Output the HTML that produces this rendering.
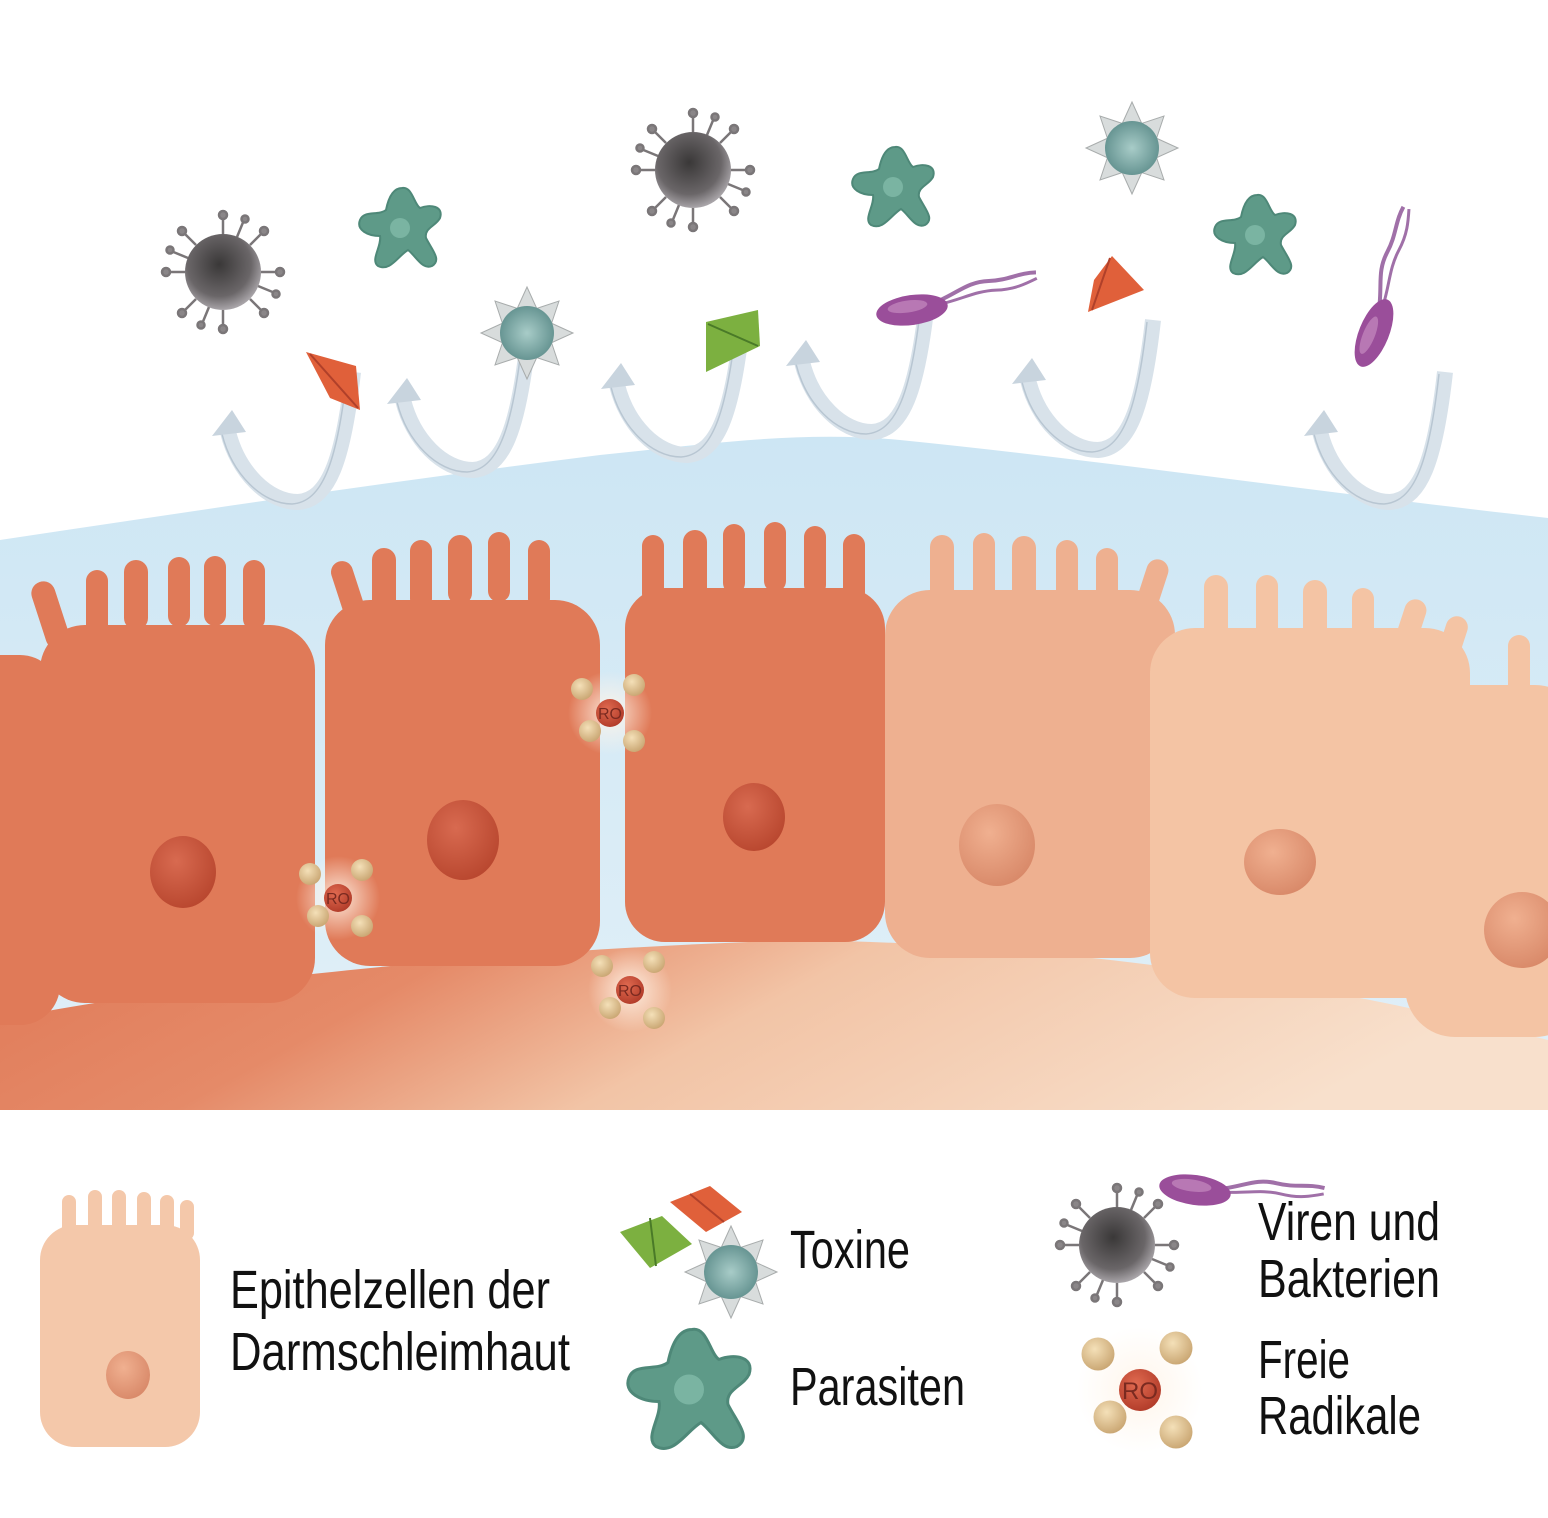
<!DOCTYPE html>
<html><head><meta charset="utf-8"><style>html,body{margin:0;padding:0;background:#fff}svg{display:block}</style></head><body>
<svg width="1548" height="1518" viewBox="0 0 1548 1518" xmlns="http://www.w3.org/2000/svg">
<defs>
<linearGradient id="blue" x1="0" y1="0" x2="0" y2="1"><stop offset="0" stop-color="#cde6f4"/><stop offset="1" stop-color="#e2f0f8"/></linearGradient>
<linearGradient id="tissue" x1="0" y1="0" x2="1" y2="0.2"><stop offset="0" stop-color="#e07a58"/><stop offset="0.3" stop-color="#e58a68"/><stop offset="0.55" stop-color="#f2c4a6"/><stop offset="1" stop-color="#f8e0cc"/></linearGradient>
<radialGradient id="vir" cx="0.45" cy="0.4" r="0.6"><stop offset="0" stop-color="#3a3838"/><stop offset="0.7" stop-color="#6a6668"/><stop offset="1" stop-color="#a8a4a8"/></radialGradient>
<radialGradient id="spk" cx="0.5" cy="0.5" r="0.6"><stop offset="0" stop-color="#a8ccc8"/><stop offset="1" stop-color="#5a8a88"/></radialGradient>
<radialGradient id="nuc" cx="0.4" cy="0.35" r="0.7"><stop offset="0" stop-color="#d86a50"/><stop offset="1" stop-color="#b8462e"/></radialGradient>
<radialGradient id="nuc2" cx="0.4" cy="0.35" r="0.7"><stop offset="0" stop-color="#f0b090"/><stop offset="1" stop-color="#d88868"/></radialGradient>
<radialGradient id="ball" cx="0.4" cy="0.35" r="0.7"><stop offset="0" stop-color="#f4e0b8"/><stop offset="1" stop-color="#c8a470"/></radialGradient>
<radialGradient id="ro" cx="0.4" cy="0.35" r="0.7"><stop offset="0" stop-color="#e06a50"/><stop offset="1" stop-color="#b03a28"/></radialGradient>
<radialGradient id="glow" cx="0.5" cy="0.5" r="0.5"><stop offset="0" stop-color="#fff4e8" stop-opacity="0.9"/><stop offset="1" stop-color="#fff4e8" stop-opacity="0"/></radialGradient>
<g id="virus">
 <g stroke="#7a7678" stroke-width="2.5" fill="#8a8688">
  <line x1="0" y1="-38" x2="0" y2="-56"/><circle cx="0" cy="-57" r="4"/>
  <line x1="0" y1="38" x2="0" y2="56"/><circle cx="0" cy="57" r="4"/>
  <line x1="-38" y1="0" x2="-56" y2="0"/><circle cx="-57" cy="0" r="4"/>
  <line x1="38" y1="0" x2="56" y2="0"/><circle cx="57" cy="0" r="4"/>
  <line x1="27" y1="27" x2="40" y2="40"/><circle cx="41" cy="41" r="4"/>
  <line x1="-27" y1="27" x2="-40" y2="40"/><circle cx="-41" cy="41" r="4"/>
  <line x1="27" y1="-27" x2="40" y2="-40"/><circle cx="41" cy="-41" r="4"/>
  <line x1="-27" y1="-27" x2="-40" y2="-40"/><circle cx="-41" cy="-41" r="4"/>
  <line x1="14" y1="-35" x2="21" y2="-52"/><circle cx="22" cy="-53" r="3.5"/>
  <line x1="-14" y1="35" x2="-21" y2="52"/><circle cx="-22" cy="53" r="3.5"/>
  <line x1="35" y1="14" x2="52" y2="21"/><circle cx="53" cy="22" r="3.5"/>
  <line x1="-35" y1="-14" x2="-52" y2="-21"/><circle cx="-53" cy="-22" r="3.5"/>
 </g>
 <circle r="38" fill="url(#vir)"/>
</g>
<g id="para">
 <path d="M0,-38 C10,-40 12,-22 18,-18 C28,-22 42,-20 38,-8 C34,0 22,2 24,12 C30,24 40,34 30,40 C20,44 14,30 6,24 C-4,30 -12,46 -24,40 C-32,34 -20,20 -22,10 C-34,10 -46,4 -42,-6 C-38,-16 -24,-10 -16,-16 C-14,-26 -10,-38 0,-38Z" fill="#5e9a88" stroke="#4e8878" stroke-width="2"/>
 <circle cx="-2" cy="2" r="10" fill="#7ab4a2"/>
</g>
<g id="spiky">
 <g fill="#d8dcdc" stroke="#a8acac" stroke-width="1">
  <polygon points="-10,-24 0,-46 10,-24"/><polygon points="-10,24 0,46 10,24"/>
  <polygon points="-24,-10 -46,0 -24,10"/><polygon points="24,-10 46,0 24,10"/>
  <polygon points="8,-24 32,-32 24,-8"/><polygon points="-8,24 -32,32 -24,8"/>
  <polygon points="-24,-8 -32,-32 -8,-24"/><polygon points="24,8 32,32 8,24"/>
 </g>
 <circle r="27" fill="url(#spk)"/>
</g>
<g id="bact">
 <path d="M30,-6 C50,-12 60,-20 80,-18 C100,-16 110,-22 128,-20" stroke="#a070a8" stroke-width="4" fill="none"/>
 <path d="M30,-2 C52,-4 66,-10 86,-8 C104,-6 116,-10 128,-14" stroke="#a070a8" stroke-width="3" fill="none"/>
 <ellipse cx="0" cy="0" rx="36" ry="15" fill="#9a4e9a"/>
 <ellipse cx="-4" cy="-4" rx="20" ry="6" fill="#b878b4"/>
</g>
<g id="arrow">
 <path d="M0,0 C10,40 40,70 70,70 C100,68 115,30 125,-60" stroke="#d8e2ea" stroke-width="16" fill="none" stroke-linecap="butt"/>
 <path d="M0,0 C10,40 40,70 70,70 C100,68 115,30 125,-60" stroke="#b8c6d2" stroke-width="1.5" fill="none" transform="translate(-6,2)"/>
 <polygon points="-16,4 4,-22 18,0" fill="#c8d4de"/>
</g>
<g id="rad">
 <circle r="42" fill="url(#glow)"/>
 <circle cx="-28" cy="-24" r="11" fill="url(#ball)"/>
 <circle cx="24" cy="-28" r="11" fill="url(#ball)"/>
 <circle cx="-20" cy="18" r="11" fill="url(#ball)"/>
 <circle cx="24" cy="28" r="11" fill="url(#ball)"/>
 <circle r="14" fill="url(#ro)"/>
 <text x="0" y="6" font-family="Liberation Sans, sans-serif" font-size="16" fill="#7a2a20" text-anchor="middle">RO</text>
</g>
</defs>

<rect width="1548" height="1518" fill="#fff"/>
<path d="M0,540 C200,510 400,480 600,455 C700,445 800,430 900,440 C1100,460 1300,490 1548,518 L1548,1110 L0,1110Z" fill="url(#blue)"/>
<path d="M0,1020 C200,980 500,950 800,940 C1100,945 1350,990 1548,1040 L1548,1110 L0,1110Z" fill="url(#tissue)"/>

<g fill="#e07a58">
 <rect x="-60" y="655" width="120" height="370" rx="40"/>
 <rect x="40" y="625" width="275" height="378" rx="45"/>
 <rect x="325" y="600" width="275" height="366" rx="45"/>
 <rect x="625" y="588" width="260" height="354" rx="40"/>
 <g>
  <rect x="40" y="580" width="24" height="70" rx="12" transform="rotate(-18 52 620)"/>
  <rect x="86" y="570" width="22" height="70" rx="11"/><rect x="124" y="560" width="24" height="70" rx="12"/>
  <rect x="168" y="557" width="22" height="70" rx="11"/><rect x="204" y="556" width="22" height="70" rx="11"/>
  <rect x="243" y="560" width="22" height="70" rx="11"/>
  <rect x="340" y="560" width="22" height="60" rx="11" transform="rotate(-18 350 600)"/>
  <rect x="372" y="548" width="24" height="70" rx="12"/><rect x="410" y="540" width="22" height="70" rx="11"/>
  <rect x="448" y="535" width="24" height="70" rx="12"/><rect x="488" y="532" width="22" height="70" rx="11"/>
  <rect x="528" y="540" width="22" height="70" rx="11"/>
  <rect x="642" y="535" width="22" height="70" rx="11"/><rect x="683" y="530" width="24" height="70" rx="12"/>
  <rect x="723" y="524" width="22" height="70" rx="11"/><rect x="764" y="522" width="22" height="70" rx="11"/>
  <rect x="804" y="526" width="22" height="70" rx="11"/><rect x="843" y="534" width="22" height="70" rx="11"/>
 </g>
</g>
<g fill="#eeb090">
 <rect x="885" y="590" width="290" height="368" rx="45"/>
 <rect x="930" y="535" width="24" height="70" rx="12"/><rect x="973" y="533" width="22" height="70" rx="11"/>
 <rect x="1012" y="536" width="24" height="70" rx="12"/><rect x="1056" y="540" width="22" height="70" rx="11"/>
 <rect x="1096" y="548" width="22" height="70" rx="11"/><rect x="1140" y="558" width="22" height="60" rx="11" transform="rotate(18 1150 590)"/>
</g>
<g fill="#f4c4a4">
 <rect x="1150" y="628" width="320" height="370" rx="45"/>
 <rect x="1204" y="575" width="24" height="70" rx="12"/><rect x="1256" y="575" width="22" height="70" rx="11"/>
 <rect x="1303" y="580" width="24" height="70" rx="12"/><rect x="1352" y="588" width="22" height="70" rx="11"/>
 <rect x="1398" y="598" width="22" height="60" rx="11" transform="rotate(18 1408 630)"/><rect x="1440" y="615" width="22" height="60" rx="11" transform="rotate(18 1450 645)"/>
 <rect x="1405" y="685" width="180" height="352" rx="50"/>
 <rect x="1508" y="635" width="22" height="70" rx="11"/>
</g>
<ellipse cx="183" cy="872" rx="33" ry="36" fill="url(#nuc)"/>
<ellipse cx="463" cy="840" rx="36" ry="40" fill="url(#nuc)"/>
<ellipse cx="754" cy="817" rx="31" ry="34" fill="url(#nuc)"/>
<ellipse cx="997" cy="845" rx="38" ry="41" fill="url(#nuc2)"/>
<ellipse cx="1280" cy="862" rx="36" ry="33" fill="url(#nuc2)"/>
<ellipse cx="1522" cy="930" rx="38" ry="38" fill="url(#nuc2)"/>

<use href="#rad" x="610" y="713"/>
<use href="#rad" x="338" y="898"/>
<use href="#rad" x="630" y="990"/>

<use href="#arrow" x="228" y="432"/>
<use href="#arrow" x="403" y="400"/>
<use href="#arrow" x="617" y="385"/>
<use href="#arrow" x="802" y="362"/>
<use href="#arrow" x="1028" y="380"/>
<use href="#arrow" x="1320" y="432"/>

<use href="#virus" x="223" y="272"/>
<use href="#virus" x="693" y="170"/>
<use href="#para" x="402" y="226"/>
<use href="#para" x="895" y="185"/>
<use href="#para" x="1257" y="233"/>
<use href="#spiky" x="527" y="333"/>
<use href="#spiky" x="1132" y="148"/>
<polygon points="306,352 356,366 360,410 330,398" fill="#e0603a"/><line x1="310" y1="354" x2="358" y2="408" stroke="#b0402a" stroke-width="2"/>
<polygon points="706,322 758,310 760,346 706,372" fill="#7cb040"/><line x1="708" y1="324" x2="758" y2="346" stroke="#4a7a28" stroke-width="2"/>
<polygon points="1112,256 1144,290 1088,312 1094,280" fill="#e0603a"/><line x1="1110" y1="258" x2="1092" y2="310" stroke="#b0402a" stroke-width="2"/>
<use href="#bact" x="912" y="310" transform="rotate(-8 912 310)"/>
<use href="#bact" x="1374" y="333" transform="rotate(-68 1374 333)"/>

<g fill="#f4c8aa">
 <rect x="40" y="1225" width="160" height="222" rx="35"/>
 <rect x="62" y="1195" width="14" height="45" rx="7"/><rect x="88" y="1190" width="14" height="45" rx="7"/>
 <rect x="112" y="1190" width="14" height="45" rx="7"/><rect x="137" y="1192" width="14" height="45" rx="7"/>
 <rect x="160" y="1195" width="14" height="45" rx="7"/><rect x="180" y="1200" width="14" height="40" rx="7"/>
</g>
<ellipse cx="128" cy="1375" rx="22" ry="24" fill="url(#nuc2)"/>
<polygon points="620,1232 662,1216 692,1244 650,1268" fill="#7cb040"/><line x1="650" y1="1218" x2="656" y2="1266" stroke="#4a7a28" stroke-width="2"/>
<polygon points="670,1202 710,1186 742,1212 706,1232" fill="#e0603a"/><line x1="690" y1="1194" x2="724" y2="1222" stroke="#b0402a" stroke-width="2"/>
<use href="#spiky" x="731" y="1272"/>
<use href="#para" x="692" y="1387" transform="translate(-346 -694) scale(1.5)"/>
<use href="#virus" x="1117" y="1245"/>
<use href="#bact" x="1195" y="1190" transform="rotate(8 1195 1190)"/>
<use href="#rad" x="1140" y="1390" transform="translate(-570 -695) scale(1.5)"/>

<g font-family="Liberation Sans, sans-serif" font-size="54" fill="#111">
 <text x="230" y="1308" textLength="320" lengthAdjust="spacingAndGlyphs">Epithelzellen der</text>
 <text x="230" y="1370" textLength="340" lengthAdjust="spacingAndGlyphs">Darmschleimhaut</text>
 <text x="790" y="1268" textLength="120" lengthAdjust="spacingAndGlyphs">Toxine</text>
 <text x="790" y="1405" textLength="175" lengthAdjust="spacingAndGlyphs">Parasiten</text>
 <text x="1258" y="1240" textLength="182" lengthAdjust="spacingAndGlyphs">Viren und</text>
 <text x="1258" y="1297" textLength="182" lengthAdjust="spacingAndGlyphs">Bakterien</text>
 <text x="1258" y="1378" textLength="92" lengthAdjust="spacingAndGlyphs">Freie</text>
 <text x="1258" y="1434" textLength="163" lengthAdjust="spacingAndGlyphs">Radikale</text>
</g>
</svg>
</body></html>
